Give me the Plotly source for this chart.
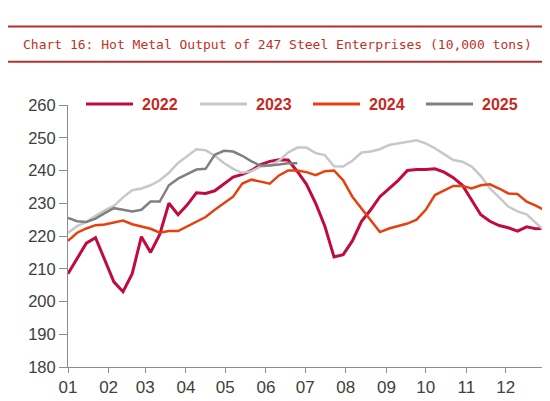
import pandas as pd
import plotly.graph_objects as go

# weekly hot metal output, 10,000 tons
y2022 = [208.5, 213, 217.8, 219.5, 212.5, 206, 203, 208.5, 219.8, 215,
         220.5, 230, 226.5, 229.5, 233.2, 233, 233.8, 236, 238, 238.8,
         240, 241.8, 242.8, 243.3, 243.2, 239.7, 235.8, 230, 223, 213.6,
         214.3, 218.5, 224.5, 228, 232, 234.5, 237, 240, 240.3, 240.3,
         240.5, 239.5, 237.8, 235.5, 231, 226.5, 224.5, 223.2, 222.5, 221.5,
         222.8, 222.2, 222.3]
y2023 = [221, 223, 224.3, 226.2, 227.8, 229.2, 231.8, 234, 234.5, 235.5,
         237, 239.3, 242.3, 244.3, 246.5, 246.2, 244.5, 242.3, 240.5, 239.3,
         239.8, 241.2, 241.5, 243, 245.5, 247, 247, 245.3, 244.7, 241.3,
         241.2, 243, 245.5, 245.8, 246.5, 247.8, 248.3, 248.8, 249.2, 248.3,
         246.8, 245, 243.2, 242.7, 241.2, 238.3, 234.5, 231.8, 229, 227.5,
         226.6, 224, 221.5]
y2024 = [218.5, 221, 222.3, 223.3, 223.5, 224.2, 224.7, 223.6, 222.9, 222.2,
         221, 221.5, 221.5, 223, 224.3, 225.8, 228, 230, 232, 236,
         237.2, 236.6, 236, 238.5, 240, 240, 239.5, 238.6, 239.8, 240,
         237, 232, 228.5, 225, 221.2, 222.3, 223, 223.8, 225, 228,
         232.5, 234, 235.3, 235.3, 234.5, 235.5, 235.8, 234.5, 233, 232.8,
         230.5, 229.3, 227.8]
y2025 = [225.5, 224.5, 224.3, 225.3, 227, 228.5, 228, 227.5, 228, 230.5,
         230.5, 235.5, 237.5, 239, 240.3, 240.5, 244.8, 246, 245.8, 244.5,
         242.8, 241.5, 241.5, 241.8, 242.2, 242.2]

years = ['2022', '2023', '2024', '2025']
series = [y2022, y2023, y2024, y2025]
colors = ['#C00C3C', '#C8C8C8', '#E5400E', '#808080']
widths = [3, 2.5, 2.5, 2.5]

# all years laid on one dummy calendar year, one point per week
weeks = pd.date_range('2021-01-01', periods=53, freq='7D')

fig = go.Figure()
for name, vals, col, w in zip(years, series, colors, widths):
    fig.add_trace(go.Scatter(
        x=weeks[:len(vals)], y=vals, mode='lines', name=name,
        line=dict(color=col, width=w), showlegend=False
    ))

# plot area in pixels: left 60, right 537, top 97, bottom 364
pw, ph = 477, 267
def px(x):
    return (x - 60) / pw
def py(y):
    return (364 - y) / ph

shapes = []
annotations = []

# title band with rules above and below
for yy in (17, 53):
    shapes.append(dict(type='line', xref='paper', yref='paper',
                       x0=px(0), x1=px(550), y0=py(yy), y1=py(yy),
                       line=dict(color='#B03030', width=2)))
annotations.append(dict(
    text='Chart 16: Hot Metal Output of 247 Steel Enterprises (10,000 tons)',
    xref='paper', yref='paper', x=px(13), y=py(35),
    xanchor='left', yanchor='middle', showarrow=False,
    font=dict(family='DejaVu Sans Mono', size=13, color='#C0302A')))

# legend drawn by hand so the line samples match the original length
leg_x = [78, 192, 305, 418]
for name, col, x0 in zip(years, colors, leg_x):
    shapes.append(dict(type='line', xref='paper', yref='paper',
                       x0=px(x0), x1=px(x0 + 47), y0=py(96), y1=py(96),
                       line=dict(color=col, width=3)))
    annotations.append(dict(text='<b>' + name + '</b>', xref='paper', yref='paper',
                            x=px(x0 + 54), y=py(96), xanchor='left', yanchor='middle',
                            showarrow=False,
                            font=dict(family='Liberation Sans', size=16, color='#C8281E')))

fig.update_layout(
    width=550, height=401,
    margin=dict(l=60, r=13, t=97, b=37),
    plot_bgcolor='white', paper_bgcolor='white',
    font=dict(family='Liberation Sans', color='#404040'),
    shapes=shapes, annotations=annotations,
    xaxis=dict(
        type='date', range=['2021-01-01', '2021-12-31'],
        tickformat='%m', dtick='M1', tick0='2021-01-01',
        showgrid=False, zeroline=False,
        showline=True, linecolor='#8C8C8C', linewidth=1,
        ticks='outside', ticklen=5, tickcolor='#8C8C8C',
        tickfont=dict(size=17, color='#404040')
    ),
    yaxis=dict(
        range=[180, 260], dtick=10,
        showgrid=False, zeroline=False,
        showline=True, linecolor='#8C8C8C', linewidth=1,
        ticks='outside', ticklen=8, tickcolor='#8C8C8C',
        tickfont=dict(size=16.5, color='#404040')
    )
)

fig.write_html('out.html')
